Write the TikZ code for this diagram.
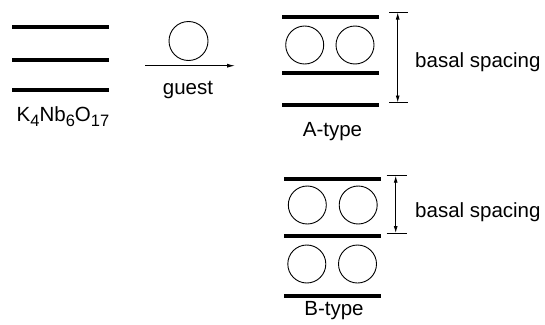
\documentclass[tikz,border=0pt]{standalone}
\usepackage{fontspec}
\setmainfont{Liberation Sans}
\usetikzlibrary{arrows.meta}

\tikzset{
  layer/.style={line width=4pt},
  guestball/.style={circle, draw, line width=0.9pt, inner sep=0pt, minimum size=38pt},
  label/.style={inner sep=0pt, font=\fontsize{20.5}{24}\selectfont},
  dimline/.style={line width=0.9pt, {Latex[length=7pt,width=4pt]}-{Latex[length=7pt,width=4pt]}},
  tick/.style={line width=0.9pt},
  feed/.style={line width=0.9pt, -{Latex[length=8pt,width=4pt]}}
}
\newcommand{\lowsub}[1]{\raisebox{-5.5pt}{\fontsize{16.5}{18}\selectfont #1}}

\begin{document}
\begin{tikzpicture}[x=1pt,y=-1pt]
\useasboundingbox (0,0) rectangle (545,324);

% host layers
\draw[layer] (12,26.5) -- (109,26.5);
\draw[layer] (12,59.5) -- (109,59.5);
\draw[layer] (12,89.5) -- (109,89.5);
\node[label, anchor=base west] (host) at (16.5,121) {K\lowsub{4}Nb\lowsub{6}O\lowsub{17}};

% guest and arrow
\node[guestball, minimum size=39pt] (g) at (188.5,41) {};
\coordinate (a0) at (145,65.7);
\coordinate (a1) at (235,65.7);
\draw[feed] (a0) -- (a1);
\node[label, anchor=base] (guest) at (188,94) {guest};

% A-type stack
\draw[layer] (282,16.5) -- (379,16.5);
\draw[layer] (282,73) -- (379,73);
\draw[layer] (282,104.5) -- (379,104.5);
\node[guestball] (a11) at (304.7,45) {};
\node[guestball] (a12) at (355,45) {};
\coordinate (at0) at (389,12.5);
\coordinate (at1) at (408,12.5);
\coordinate (ab0) at (389,102.5);
\coordinate (ab1) at (408,102.5);
\draw[tick] (at0) -- (at1);
\draw[tick] (ab0) -- (ab1);
\coordinate (ad0) at (397.7,12.5);
\coordinate (ad1) at (397.7,102.5);
\draw[dimline] (ad0) -- (ad1);
\node[label, anchor=base west] (abasal) at (415,67.3) {basal spacing};
\node[label, anchor=base] (atype) at (332.5,136) {A-type};

% B-type stack
\draw[layer] (284,178.5) -- (381,178.5);
\draw[layer] (284,236) -- (381,236);
\draw[layer] (284,295.5) -- (381,295.5);
\node[guestball] (b11) at (307.3,205) {};
\node[guestball] (b12) at (358.2,205) {};
\node[guestball] (b21) at (306.8,264) {};
\node[guestball] (b22) at (357.5,264) {};
\coordinate (bt0) at (386.5,175.7);
\coordinate (bt1) at (406.7,175.7);
\coordinate (bb0) at (386.5,233);
\coordinate (bb1) at (406.7,233);
\draw[tick] (bt0) -- (bt1);
\draw[tick] (bb0) -- (bb1);
\coordinate (bd0) at (395.7,175.7);
\coordinate (bd1) at (395.7,233);
\draw[dimline] (bd0) -- (bd1);
\node[label, anchor=base west] (bbasal) at (415,217) {basal spacing};
\node[label, anchor=base] (btype) at (334,315) {B-type};
\end{tikzpicture}
\end{document}
